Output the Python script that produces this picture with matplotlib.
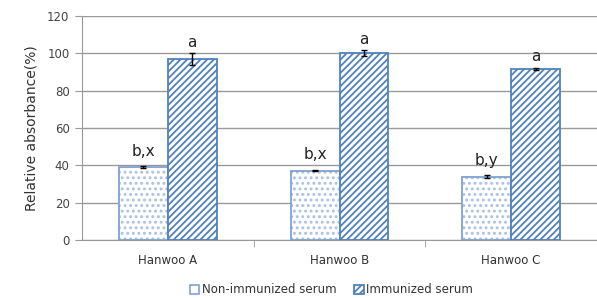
import matplotlib.pyplot as plt
import matplotlib.patches as mpatches
import numpy as np

categories = ['Hanwoo A', 'Hanwoo B', 'Hanwoo C']
non_immunized = [39.1, 37.2, 34.0]
non_err = [0.4, 0.5, 0.6]
immunized = [96.8, 100.0, 91.6]
imm_err = [3.2, 1.6, 0.5]
non_labels = ['b,x', 'b,x', 'b,y']
imm_labels = ['a', 'a', 'a']

plt.rcParams['font.family'] = ['DejaVu Sans']
plt.rcParams['hatch.linewidth'] = 1.3

fig = plt.figure(figsize=(5.97, 2.98), dpi=100)
ax = fig.add_axes([82/597, 58/298, 515/597, 224/298])

x = np.arange(len(categories))
w = 0.285
edge = '#7fa3d3'
blue = '#4f81bd'

# dotted fill drawn separately so the dots can be lighter than the outline
ax.bar(x - w/2, non_immunized, w, color='white', edgecolor='#a9c0e2',
       hatch='...', linewidth=0, zorder=3)
ax.bar(x - w/2, non_immunized, w, color='none', edgecolor=edge,
       linewidth=1.3, zorder=3)
b2 = ax.bar(x + w/2, immunized, w, color='white', edgecolor=blue,
            hatch='/////', linewidth=1.3, zorder=3, label='Immunized serum')

ax.errorbar(x - w/2, non_immunized, yerr=non_err, fmt='none', ecolor='black',
            elinewidth=1, capsize=2.5, zorder=4)
ax.errorbar(x + w/2, immunized, yerr=imm_err, fmt='none', ecolor='black',
            elinewidth=1, capsize=2.5, zorder=4)

for i in range(len(categories)):
    ax.text(x[i] - w/2, non_immunized[i] + non_err[i] + 4, non_labels[i],
            ha='center', va='bottom', fontsize=11, color='#222222')
    ax.text(x[i] + w/2, immunized[i] + imm_err[i] + 2, imm_labels[i],
            ha='center', va='bottom', fontsize=11, color='#222222')

ax.set_ylim(0, 120)
ax.set_yticks(range(0, 121, 20))
ax.set_xlim(-0.5, 2.5)
ax.set_xticks(x)
ax.set_xticklabels(categories)
ax.set_xticks([0.5, 1.5], minor=True)
ax.tick_params(axis='x', which='major', length=0, pad=10, labelsize=8.5, colors='#333333')
ax.tick_params(axis='x', which='minor', length=5, color='#999999', direction='out')
ax.tick_params(axis='y', length=5, color='#999999', labelsize=8.5, labelcolor='#444444', pad=4)
ax.yaxis.grid(True, color='#999999', linewidth=1, zorder=0)
ax.set_axisbelow(True)
for s in ['top', 'right']:
    ax.spines[s].set_visible(False)
ax.spines['left'].set_color('#999999')
ax.spines['bottom'].set_color('#999999')
ax.set_ylabel('Relative absorbance(%)', fontsize=10, color='#333333', labelpad=6)

h1 = mpatches.Patch(facecolor='white', edgecolor=edge, hatch='.', linewidth=1.2,
                    label='Non-immunized serum')
leg = fig.legend(handles=[h1, b2], loc='lower center', bbox_to_anchor=(0.555, -0.03),
                 ncol=2, frameon=False, fontsize=8.5, handlelength=0.8, handleheight=0.8,
                 handletextpad=0.2, columnspacing=1.5)
for t in leg.get_texts():
    t.set_color('#333333')

fig.savefig('out.png', dpi=100)
